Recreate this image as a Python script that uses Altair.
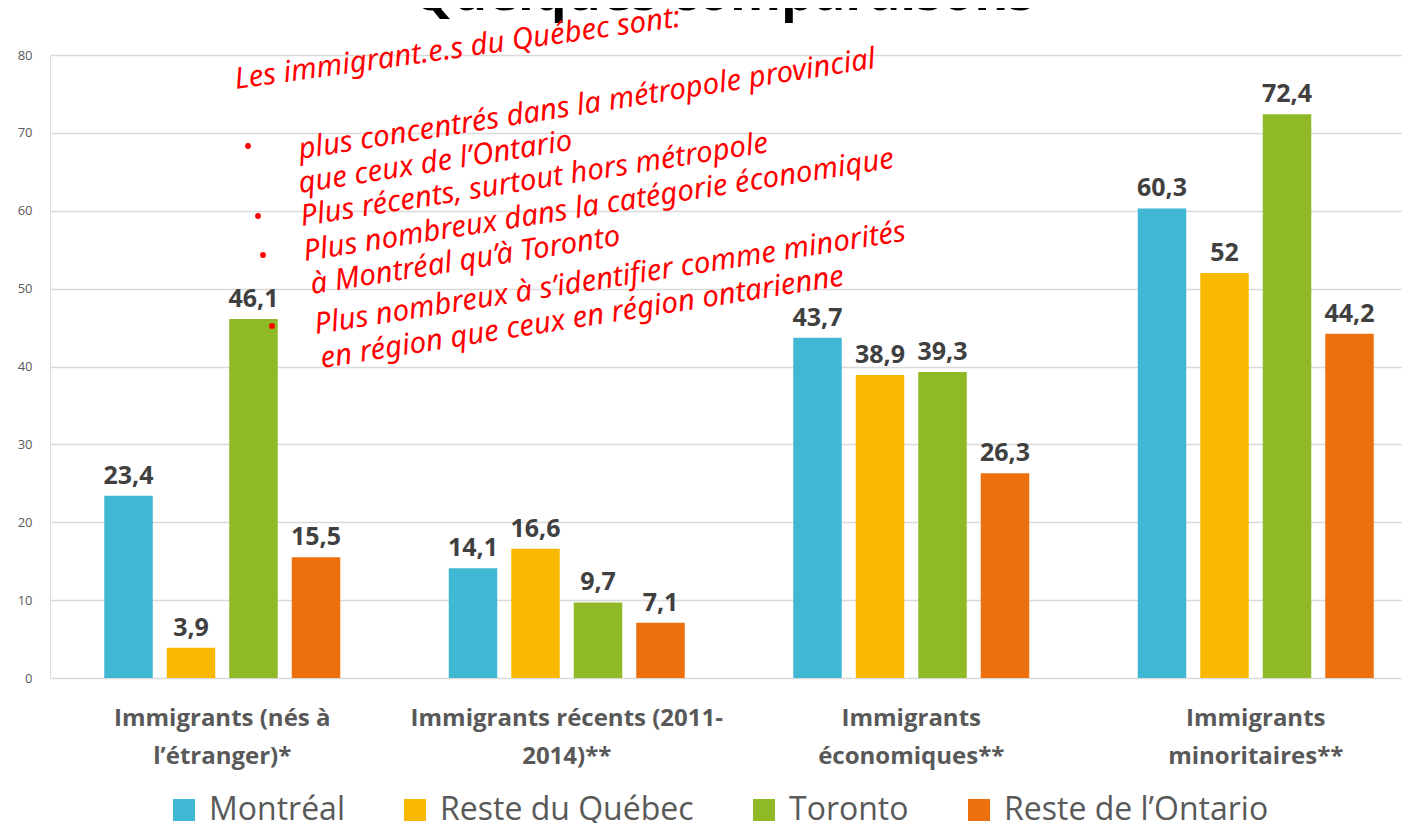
import altair as alt
import pandas as pd

# ---- data ----
categories = [
    "Immigrants (nés à|l’étranger)*",
    "Immigrants récents (2011-|2014)**",
    "Immigrants|économiques**",
    "Immigrants|minoritaires**",
]
series = ["Montréal", "Reste du Québec", "Toronto", "Reste de l’Ontario"]
montreal = [23.4, 14.1, 43.7, 60.3]
reste_quebec = [3.9, 16.6, 38.9, 52]
toronto = [46.1, 9.7, 39.3, 72.4]
reste_ontario = [15.5, 7.1, 26.3, 44.2]
colors = ["#41B8D3", "#F9B800", "#8FBA26", "#EC700E"]
y_ticks = [0, 10, 20, 30, 40, 50, 60, 70, 80]

title_text = "Quelques comparaisons"
note_lines = [
    "Les immigrant.e.s du Québec sont:",
    "plus concentrés dans la métropole provincial",
    "que ceux de l’Ontario",
    "Plus récents, surtout hors métropole",
    "Plus nombreux dans la catégorie économique",
    "à Montréal qu’à Toronto",
    "Plus nombreux à s’identifier comme minorités",
    "en région que ceux en région ontarienne",
]
# annotation placement (pixels relative to plot origin)
note_pos = [(186, 34), (250, 104), (250, 138), (252, 171), (255, 206), (262, 239), (266, 279), (272, 313)]
bullet_pos = [(198, 91), (208, 161), (213, 200), (222, 271)]

rows = []
for s, vals in zip(series, [montreal, reste_quebec, toronto, reste_ontario]):
    for c, v in zip(categories, vals):
        rows.append({"cat": c, "serie": s, "val": v, "lab": f"{v:g}".replace(".", ",")})
df = pd.DataFrame(rows)

FONT = "Open Sans"

x_enc = alt.X(
    "cat:N",
    sort=categories,
    scale=alt.Scale(domain=categories, paddingInner=0, paddingOuter=0, range=[0, 1378]),
    axis=alt.Axis(
        title=None,
        labelExpr="split(datum.label, '|')",
        labelAngle=0,
        labelFontSize=24,
        labelFontWeight="bold",
        labelColor="#595959",
        labelFont=FONT,
        labelLineHeight=38,
        labelPadding=28,
        labelLimit=400,
        ticks=False,
        domain=False,
        grid=False,
    ),
)
xoff = alt.XOffset("serie:N", sort=series, scale=alt.Scale(domain=series, paddingInner=0.224, paddingOuter=0.868))
y_enc = alt.Y(
    "val:Q",
    scale=alt.Scale(domain=[0, 80], nice=False),
    axis=alt.Axis(
        title=None,
        values=y_ticks,
        grid=True,
        gridColor="#D9D9D9",
        gridWidth=1.3,
        domain=False,
        ticks=False,
        labelFontSize=13,
        labelColor="#595959",
        labelFont=FONT,
        labelPadding=18,
    ),
)

bars = alt.Chart(df).mark_bar().encode(
    x=x_enc,
    xOffset=xoff,
    y=y_enc,
    color=alt.Color(
        "serie:N",
        sort=series,
        scale=alt.Scale(domain=series, range=colors),
        legend=alt.Legend(
            title=None,
            orient="none",
            direction="horizontal",
            legendX=118,
            legendY=739,
            symbolType="square",
            symbolSize=484,
            symbolStrokeWidth=0,
            symbolOpacity=1,
            labelFontSize=32,
            labelFont=FONT,
            labelColor="#595959",
            labelOffset=9,
            columnPadding=54,
            labelLimit=500,
        ),
    ),
)

labels = alt.Chart(df).mark_text(
    dy=-12, baseline="alphabetic", fontSize=25, fontWeight="bold", color="#404040", font=FONT
).encode(x=x_enc, xOffset=xoff, y=y_enc, text="lab:N")

one = alt.Data(values=[{}])
extra = []
extra.append(
    alt.Chart(one).mark_text(fontSize=52, fontWeight="bold", color="#000000", font=FONT, align="center", baseline="alphabetic")
    .encode(x=alt.value(673), y=alt.value(-45), text=alt.value(title_text))
)
for i, (line, (px, py)) in enumerate(zip(note_lines, note_pos)):
    extra.append(
        alt.Chart(one).mark_text(
            fontSize=29.5, fontStyle="italic", color="#FF0000", font="Noto Sans",
            align="left", baseline="alphabetic", angle=352 if i == 0 else 351,
        ).encode(x=alt.value(px), y=alt.value(py), text=alt.value(line))
    )
for (px, py) in bullet_pos:
    extra.append(
        alt.Chart(one).mark_circle(size=34, color="#FF0000", opacity=1)
        .encode(x=alt.value(px), y=alt.value(py))
    )

chart = alt.layer(bars, labels, *extra).properties(
    width=1352,
    height=623,
    padding={"left": 42, "top": 47, "right": 0, "bottom": 145},
    autosize=alt.AutoSizeParams(type="none"),
).configure_view(stroke=None).configure(background="white")

chart.save("out.html", embed_options={"renderer": "svg", "actions": False})
